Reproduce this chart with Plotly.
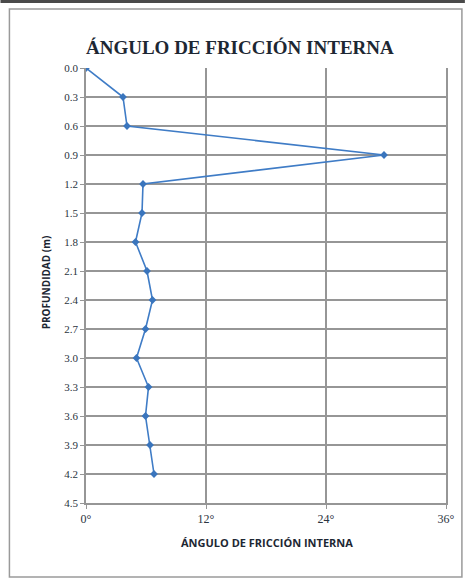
import plotly.graph_objects as go

# Depth (m) and internal friction angle (degrees)
profundidad = [0.0, 0.3, 0.6, 0.9, 1.2, 1.5, 1.8, 2.1, 2.4, 2.7, 3.0, 3.3, 3.6, 3.9, 4.2]
angulo = [0.0, 3.7, 4.1, 29.8, 5.7, 5.6, 4.95, 6.1, 6.65, 5.95, 5.05, 6.25, 5.95, 6.4, 6.8]

y_ticks = [0.0, 0.3, 0.6, 0.9, 1.2, 1.5, 1.8, 2.1, 2.4, 2.7, 3.0, 3.3, 3.6, 3.9, 4.2, 4.5]
x_ticks = [0, 12, 24, 36]

W, H = 467, 580
L, R, T, B = 86, 19, 68, 77
pw, ph = W - L - R, H - T - B


def px(x):
    return (x - L) / pw


def py(y):
    return (H - B - y) / ph


fig = go.Figure()
fig.add_trace(go.Scatter(
    x=angulo, y=profundidad, mode="lines+markers",
    line=dict(color="#3f7cc6", width=1.6),
    marker=dict(symbol="diamond", size=6, color="#3a75bd"),
    showlegend=False,
))

grid = "#969696"
fig.update_xaxes(
    range=[0, 36], tickvals=x_ticks, ticktext=[f"{v}°" for v in x_ticks],
    showgrid=True, gridcolor=grid, gridwidth=1.5, zeroline=False,
    showline=True, linecolor=grid, linewidth=1.5,
    ticks="outside", ticklen=4, tickcolor=grid,
    tickfont=dict(family="Liberation Serif", size=12, color="#2b3440"),
)
fig.update_yaxes(
    range=[4.5, 0], tickvals=y_ticks, ticktext=[f"{v:.1f}" for v in y_ticks],
    showgrid=True, gridcolor=grid, gridwidth=1.5, zeroline=False,
    showline=True, linecolor=grid, linewidth=1.5, mirror=True,
    ticks="outside", ticklen=4, tickcolor=grid,
    tickfont=dict(family="Liberation Serif", size=11, color="#2b3440"),
)

fig.update_layout(
    width=W, height=H,
    margin=dict(l=L, r=R, t=T, b=B),
    paper_bgcolor="white", plot_bgcolor="white",
    annotations=[
        dict(text="<b>ÁNGULO DE FRICCIÓN INTERNA</b>", x=px(241), y=py(35),
             xref="paper", yref="paper", showarrow=False,
             font=dict(family="Liberation Serif", size=19, color="#1d2733")),
        dict(text="<b>ÁNGULO DE FRICCIÓN INTERNA</b>", x=px(268), y=py(552),
             xref="paper", yref="paper", showarrow=False,
             font=dict(family="Open Sans", size=11, color="#1d2733")),
        dict(text="<b>PROFUNDIDAD (m)</b>", x=px(37), y=py(282), textangle=-90,
             xref="paper", yref="paper", showarrow=False,
             font=dict(family="Open Sans", size=10, color="#1d2733")),
    ],
    shapes=[
        # outer frame
        dict(type="rect", xref="paper", yref="paper",
             x0=px(9), x1=px(464), y0=py(577), y1=py(9),
             line=dict(color="#9a9a9a", width=1.5), layer="below"),
        # dark strip along the top edge
        dict(type="rect", xref="paper", yref="paper",
             x0=px(0), x1=px(467), y0=py(3), y1=py(0),
             line=dict(width=0), fillcolor="#4a4a4a"),
    ],
)

fig.write_html("out.html")
